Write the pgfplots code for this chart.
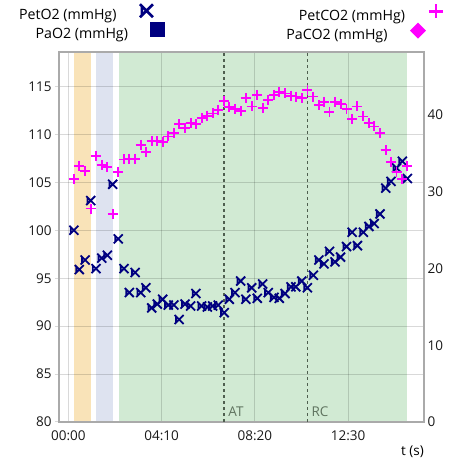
\documentclass[border=0pt]{standalone}
\usepackage{pgfplots}
\usepackage{pgfplotstable}
\pgfplotsset{compat=1.18}
\usepackage{fontspec}
\setmainfont{Open Sans}
\definecolor{navyc}{HTML}{000080}
\definecolor{magc}{HTML}{FF00FF}
\definecolor{bandor}{HTML}{F9E3B8}
\definecolor{bandbl}{HTML}{DEE3F0}
\definecolor{bandgr}{HTML}{D1EAD3}
\definecolor{framec}{HTML}{AAAAAA}
\definecolor{atc}{HTML}{4F5F4F}
\definecolor{atlab}{HTML}{5F735F}
\newcommand{\lfont}{\fontsize{13.5}{16}\selectfont}
\newcommand{\gfont}{\fontsize{14.2}{16}\selectfont}
\pgfdeclareplotmark{kx}{%
  \pgfpathmoveto{\pgfqpoint{-\pgfplotmarksize}{\pgfplotmarksize}}%
  \pgfpathlineto{\pgfqpoint{\pgfplotmarksize}{-\pgfplotmarksize}}%
  \pgfpathmoveto{\pgfqpoint{-\pgfplotmarksize}{-\pgfplotmarksize}}%
  \pgfpathlineto{\pgfqpoint{\pgfplotmarksize}{\pgfplotmarksize}}%
  \pgfpathmoveto{\pgfqpoint{-0.7\pgfplotmarksize}{-0.8\pgfplotmarksize}}%
  \pgfpathlineto{\pgfqpoint{-0.7\pgfplotmarksize}{0.8\pgfplotmarksize}}%
  \pgfusepathqstroke}
\pgfplotstableread{
t v
15 100.0
29.5 95.9
45 96.9
60 103.1
74 96.0
89.5 97.1
104.6 97.4
119 104.8
134 99.1
149 96.0
163.6 93.5
179 95.6
194 93.5
208 94.0
223.5 91.9
238.6 92.3
253 92.8
268 92.2
283 92.2
297 90.7
313 92.3
328 92.1
342 93.4
357.6 92.1
372.7 92.0
387 92.1
402 92.2
418 91.4
431.6 92.8
447 93.5
462 94.7
476 92.8
491.7 94.0
506.7 92.9
521 94.4
536 93.5
551.5 93.0
565.7 92.9
581 93.4
597 94.1
610 94.1
626 94.7
641 94.0
657 95.3
672 96.9
685.5 96.5
700 97.8
715 96.7
730 97.2
746 98.3
761 99.8
775 98.4
791 99.8
806 100.4
820 100.7
835.6 101.7
851 104.4
865 105.1
880 106.5
895.5 107.2
909 105.4
}\otwo
\pgfplotstableread{
t v
15 31.7
29.5 33.4
45 32.7
60 27.8
74 34.7
89.5 33.5
104.6 33.2
119 27.1
134 32.6
149 34.2
163.6 34.3
179 34.3
194 36.1
208 35.2
223.5 36.6
238.6 36.6
253 36.5
268 37.2
283 37.6
297 38.8
313 38.3
328 38.9
342 38.8
357.6 39.6
372.7 39.9
387 40.2
402 40.6
418 41.8
431.6 41.0
447 40.8
462 40.5
476 42.2
491.7 41.1
506.7 42.6
521 40.9
536 41.9
551.5 42.6
565.7 43.0
581 42.8
597 42.5
610 42.4
626 42.2
641 43.2
657 42.4
672 41.3
685.5 41.7
700 40.4
715 41.7
730 41.4
746 40.8
761 39.5
775 41.1
791 39.8
806 38.9
820 38.5
835.6 37.6
851 35.4
865 33.9
880 32.6
895.5 31.7
909 33.3
}\cotwo
\begin{document}
\begin{tikzpicture}
\path (-59pt,-46pt) rectangle (413pt,422pt);
\begin{axis}[
  set layers,
  scale only axis, width=365pt, height=370pt,
  at={(0pt,0pt)}, anchor=south west,
  xmin=-25, xmax=953.6, ymin=80, ymax=118.6,
  xtick={0,250,500,750}, xticklabels={00:00,04:10,08:20,12:30},
  ytick={80,85,...,115},
  ytick pos=left, xtick pos=bottom,
  grid=major, grid style={line width=1pt, draw=black, opacity=0.15},
  axis line style={line width=2pt, draw=framec},
  tick align=outside, major tick length=4pt,
  ytick style={line width=1pt, draw=black!15},
  xtick style={draw=none},
  /pgf/number format/assume math mode=true,
  tick label style={font=\lfont, text=black!90},
  xticklabel style={yshift=-1.5pt},
  xlabel={t (s)},
  xlabel style={font=\lfont, at={(axis description cs:1,0)}, anchor=north east, inner sep=0pt, yshift=-24pt},
  legend style={draw=none, fill=none, inner sep=0pt, outer sep=0pt,
    at={(axis description cs:0.2986,1.129)}, anchor=north east,
    row sep=1pt, column sep=0pt, nodes={inner sep=0pt, font=\gfont}},
  legend cell align=right, legend plot pos=right,
]
\begin{pgfonlayer}{axis background}
\fill[bandor] (axis cs:15.3,80) rectangle (axis cs:60,118.6);
\fill[bandbl] (axis cs:74.3,80) rectangle (axis cs:119,118.6);
\fill[bandgr] (axis cs:135,80) rectangle (axis cs:909,118.6);
\end{pgfonlayer}
\addlegendimage{legend image code/.code={\path[draw=none,fill=none] (0pt,-3.5pt) rectangle (40pt,11pt); \draw[navyc, line width=2.6pt] plot[only marks, mark=kx, mark size=6.5pt] coordinates {(18.5pt,4.5pt)};}}
\addlegendentry{PetO2 (mmHg)\hspace*{11.5pt}}
\addlegendimage{legend image code/.code={\path[draw=none,fill=none] (0pt,-3.5pt) rectangle (40pt,11pt); \fill[navyc, draw=none] (22.5pt,-3pt) rectangle (37.5pt,12pt);}}
\addlegendentry{PaO2 (mmHg)}
\draw[atc, line width=1.8pt, dash pattern=on 3pt off 3pt] (axis cs:418,80) -- (axis cs:418,118.6);
\draw[atc, line width=1.8pt, dash pattern=on 3pt off 3pt] (axis cs:641,80) -- (axis cs:641,118.6);
\node[atlab, font=\lfont, anchor=base west, inner sep=0pt, xshift=4pt, yshift=5pt] at (axis cs:418,80) {AT};
\node[atlab, font=\lfont, anchor=base west, inner sep=0pt, xshift=4pt, yshift=5pt] at (axis cs:641,80) {RC};
\addplot[only marks, mark=kx, mark size=4.5pt, navyc, line width=1.8pt, forget plot] table[x=t, y=v] {\otwo};
\end{axis}
\begin{axis}[
  scale only axis, width=365pt, height=370pt,
  at={(0pt,0pt)}, anchor=south west,
  xmin=-25, xmax=953.6, ymin=0, ymax=48.2,
  axis y line*=right, axis x line=none,
  ytick={0,10,20,30,40}, major tick length=0pt,
  axis line style={draw=none},
  /pgf/number format/assume math mode=true,
  tick label style={font=\lfont, text=black!90},
  legend style={draw=none, fill=none, inner sep=0pt, outer sep=0pt,
    at={(axis description cs:1.0575,1.129)}, anchor=north east,
    row sep=1pt, column sep=0pt, nodes={inner sep=0pt, font=\gfont}},
  legend cell align=right, legend plot pos=right,
]
\addlegendimage{legend image code/.code={\path[draw=none,fill=none] (0pt,-3.5pt) rectangle (40pt,11pt); \draw[magc, line width=2.6pt] plot[only marks, mark=+, mark size=7pt] coordinates {(31pt,4.5pt)};}}
\addlegendentry{PetCO2 (mmHg)}
\addlegendimage{legend image code/.code={\path[draw=none,fill=none] (0pt,-3.5pt) rectangle (40pt,11pt); \fill[magc, draw=none] (13pt,12.5pt) -- (21pt,4.5pt) -- (13pt,-3.5pt) -- (5pt,4.5pt) -- cycle;}}
\addlegendentry{PaCO2 (mmHg)\hspace*{17.5pt}}
\addplot[only marks, mark=+, mark size=5pt, magc, line width=1.8pt, forget plot] table[x=t, y=v] {\cotwo};
\end{axis}
\end{tikzpicture}
\end{document}
